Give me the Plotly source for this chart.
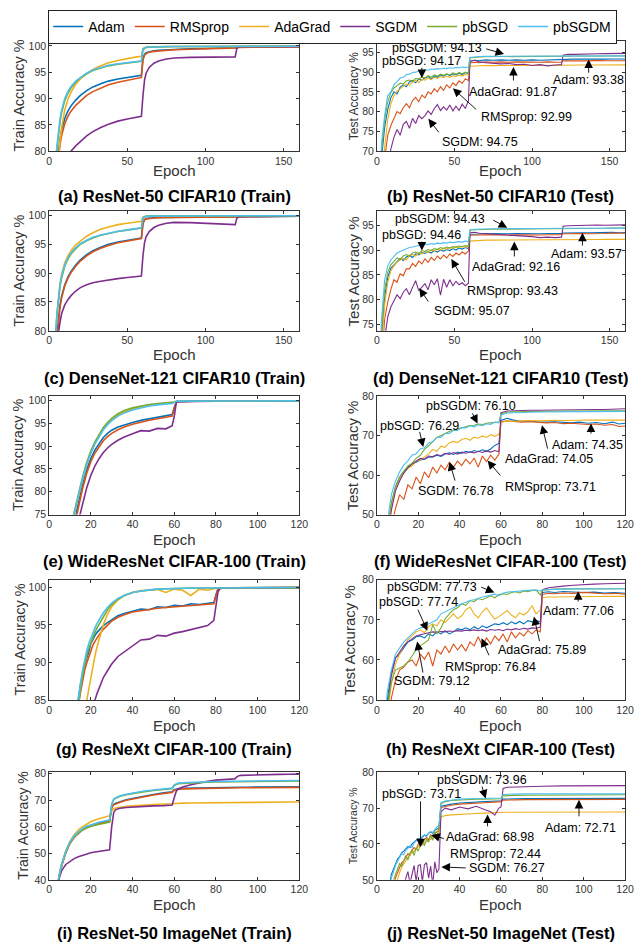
import plotly.graph_objects as go

NAMES = ["Adam", "RMSprop", "AdaGrad", "SGDM", "pbSGD", "pbSGDM"]
COLORS = ["#0072BD", "#D95319", "#EDB120", "#7E2F8E", "#77AC30", "#4DBEEE"]

# ---------------- (a)/(c) CIFAR10 train ----------------
CIFAR10_TRAIN_EPOCHS = [1,2,3,4,5,6,7,8,10,12,14,17,20,24,28,33,38,44,50,55,59,
                        60,61,62,64,67,70,75,80,90,100,110,119,
                        120,121,123,130,140,150,160]
A_ADAM = [42,58,67,73,77.5,80.3,82.3,84,86.2,87.6,88.6,89.7,90.6,91.5,92.2,92.8,93.3,93.7,94.0,94.2,94.4,
          97.6,98.4,98.7,98.9,99.05,99.15,99.25,99.35,99.45,99.5,99.55,99.6,
          99.7,99.75,99.78,99.8,99.8,99.82,99.83]
A_RMSPROP = [40,56,65,71.5,76,79,81.3,83,85.2,86.6,87.6,88.7,89.6,90.6,91.3,92.0,92.6,93.1,93.5,93.8,94.0,
             97.3,98.2,98.5,98.8,98.95,99.05,99.15,99.25,99.35,99.4,99.45,99.5,
             99.62,99.68,99.72,99.74,99.76,99.77,99.78]
A_ADAGRAD = [35,52,63,70,75,79,82,84.5,87.8,89.8,91.2,92.7,93.7,94.7,95.5,96.2,96.8,97.2,97.6,97.85,98.0,
             99.5,99.7,99.75,99.8,99.83,99.85,99.86,99.87,99.88,99.88,99.89,99.89,
             99.9,99.9,99.9,99.9,99.91,99.91,99.92]
A_SGDM = [20,40,52,60,65,68.5,71,73,76,78.3,80,81.0,81.9,82.9,83.7,84.5,85.1,85.7,86.1,86.4,86.6,
          90.5,93.5,94.8,95.9,96.7,97.1,97.5,97.7,97.8,97.85,97.85,97.9,
          99.5,99.75,99.82,99.85,99.87,99.88,99.9]
A_PBSGD = [48,62,71,76.5,80.3,83.3,85.6,87.3,89.6,91,92,93.1,93.9,94.7,95.3,95.8,96.2,96.5,96.75,96.95,97.05,
           99.3,99.6,99.7,99.75,99.8,99.83,99.85,99.86,99.87,99.88,99.88,99.89,
           99.9,99.9,99.9,99.9,99.91,99.91,99.92]
A_PBSGDM = [50,64,72,77.5,81,84,86.2,87.8,90,91.3,92.3,93.3,94.0,94.8,95.4,95.9,96.3,96.6,96.8,97.0,97.1,
            99.35,99.62,99.72,99.77,99.81,99.84,99.86,99.87,99.88,99.89,99.89,99.9,
            99.9,99.91,99.91,99.91,99.92,99.92,99.93]

C_ADAM = [40,55,66,74,79.5,82.5,84.5,86,88,89.3,90.3,91.4,92.3,93.2,93.9,94.5,95.0,95.4,95.7,95.95,96.1,
          98.7,99.3,99.45,99.55,99.6,99.65,99.68,99.7,99.72,99.73,99.74,99.75,
          99.8,99.82,99.84,99.85,99.86,99.87,99.88]
C_RMSPROP = [38,53,64,72.5,78.5,82,84.2,85.7,87.8,89.1,90.1,91.2,92.1,93.0,93.7,94.3,94.8,95.25,95.6,95.85,96.0,
             98.5,99.2,99.4,99.5,99.55,99.6,99.63,99.65,99.67,99.68,99.69,99.7,
             99.78,99.8,99.82,99.83,99.84,99.85,99.86]
C_ADAGRAD = [42,58,70,78,83,86.3,88.3,89.8,91.8,93.0,93.9,94.9,95.6,96.4,97.0,97.6,98.0,98.4,98.65,98.85,99.0,
             99.7,99.85,99.88,99.9,99.9,99.9,99.91,99.91,99.91,99.92,99.92,99.92,
             99.92,99.92,99.93,99.93,99.93,99.93,99.93]
C_SGDM = [35,50,62,72,78,80,81.5,83,84.5,85.4,86.1,86.9,87.5,88.0,88.35,88.6,88.85,89.05,89.25,89.4,89.5,
          93.0,95.3,96.3,97.2,97.9,98.3,98.65,98.8,98.75,98.6,98.45,98.4,
          99.5,99.75,99.82,99.85,99.87,99.88,99.9]
C_PBSGD = [44,59,70,78,82.6,85.7,87.7,89.2,91.2,92.4,93.3,94.25,95.0,95.6,96.1,96.55,96.9,97.2,97.45,97.65,97.8,
           99.6,99.8,99.85,99.88,99.89,99.9,99.9,99.9,99.91,99.91,99.91,99.92,
           99.92,99.92,99.92,99.93,99.93,99.93,99.93]
C_PBSGDM = [45,60,71,78.5,83,86,88,89.5,91.4,92.6,93.5,94.4,95.1,95.7,96.2,96.6,96.95,97.25,97.5,97.7,97.85,
            99.6,99.8,99.85,99.88,99.89,99.9,99.9,99.91,99.91,99.91,99.92,99.92,
            99.92,99.92,99.93,99.93,99.93,99.93,99.94]

# ---------------- (b)/(d) CIFAR10 test ----------------
CIFAR10_TEST_EPOCHS = [1,3,5,7,9,11,13,15,17,19,21,23,25,27,29,31,33,35,37,39,41,43,45,47,49,51,53,55,57,59,
                       60,63,66,70,75,80,85,90,95,100,105,110,115,119,
                       120,123,127,132,137,142,147,152,156,160]
B_ADAM = [50,68,76,80.5,83.5,85.0,84.5,86.2,86.8,86.3,87.5,87.9,87.3,88.3,88.0,88.6,88.9,88.2,89.0,88.7,89.3,89.0,89.5,89.1,89.6,89.3,89.8,89.4,89.9,89.6,
          92.8,93.0,92.9,93.1,93.0,93.1,93.0,93.1,93.0,93.1,93.0,93.1,93.05,93.1,
          93.3,93.35,93.3,93.35,93.3,93.38,93.3,93.35,93.3,93.35]
B_RMSPROP = [40,58,68,74,76.5,78.5,80.0,79.5,81.0,82.0,81.0,82.8,83.6,82.5,84.2,83.5,85.0,84.5,85.8,85.0,86.3,85.4,86.8,86.0,87.3,86.6,87.8,87.2,88.3,87.9,
             92.3,92.5,92.4,92.6,92.5,92.6,92.5,92.6,92.5,92.55,92.5,92.6,92.5,92.55,
             92.85,92.9,92.85,92.9,92.85,92.99,92.9,92.9,92.85,92.9]
B_ADAGRAD = [45,62,71,78,82,84,85.2,85.8,86.5,87.0,86.7,87.5,87.9,87.4,88.2,88.0,88.5,88.1,88.7,88.4,88.9,88.6,89.0,88.7,89.1,88.9,89.3,89.0,89.4,89.2,
             91.5,91.6,91.6,91.7,91.65,91.7,91.7,91.75,91.7,91.75,91.7,91.75,91.7,91.75,
             91.8,91.82,91.8,91.83,91.8,91.85,91.82,91.87,91.83,91.85]
B_SGDM = [30,50,60,66,70.5,73.5,75.5,74.0,76.8,77.5,75.8,78.3,77.0,79.0,78.2,79.0,80.2,79.3,80.8,81.8,80.3,81.2,80.4,81.7,80.2,81.4,80.3,81.9,80.8,82.7,
          92.8,93.0,92.6,92.4,92.3,92.1,92.2,91.9,92.0,91.7,91.9,91.6,91.8,91.9,
          94.3,94.5,94.5,94.6,94.6,94.65,94.7,94.7,94.7,94.75]
B_PBSGD = [52,70,78,82.5,84.8,86.0,86.6,87.2,87.0,87.8,88.0,87.6,88.4,88.2,88.8,88.5,89.1,88.7,89.3,89.0,89.5,89.2,89.6,89.3,89.8,89.5,89.9,89.6,90.0,89.8,
           93.6,93.8,93.85,93.9,93.9,93.95,93.9,93.95,93.9,93.95,93.95,94.0,93.95,94.0,
           94.05,94.05,94.1,94.05,94.1,94.1,94.1,94.17,94.1,94.12]
B_PBSGDM = [55,72,79,84,85,86.8,87.6,88.5,88.7,89.4,89.5,89.9,90.0,90.3,90.3,90.6,90.5,90.8,90.7,90.9,90.8,91.0,90.9,91.1,91.0,91.2,91.1,91.3,91.2,91.3,
            93.7,93.9,93.95,94.0,94.0,94.05,94.0,94.05,94.0,94.05,94.05,94.1,94.05,94.1,
            94.1,94.1,94.1,94.12,94.1,94.13,94.1,94.12,94.1,94.12]

D_ADAM = [55,72,80.5,84.5,86.3,87.0,87.8,88.3,87.9,88.6,88.9,88.5,89.2,89.0,89.5,89.3,89.7,89.4,89.9,89.6,90.0,89.8,90.1,89.9,90.3,90.0,90.4,90.2,90.5,90.3,
          93.2,93.3,93.25,93.35,93.3,93.35,93.3,93.35,93.3,93.35,93.3,93.35,93.3,93.35,
          93.45,93.5,93.45,93.5,93.5,93.55,93.5,93.57,93.5,93.55]
D_RMSPROP = [50,67,76,79.5,82,84.0,83.5,85.2,84.8,86.2,86.2,87.3,86.7,87.8,87.2,88.2,87.5,88.5,87.9,88.8,88.2,89.0,88.4,89.2,88.7,89.4,89.0,89.6,89.2,89.8,
             93.0,93.1,93.05,93.1,93.05,93.1,93.05,93.1,93.05,93.1,93.05,93.1,93.05,93.1,
             93.3,93.35,93.3,93.35,93.3,93.4,93.35,93.43,93.35,93.4]
D_ADAGRAD = [52,70,79,83.5,85.8,86.8,87.5,88.0,88.3,88.0,88.8,89.1,88.8,89.4,89.2,89.7,89.5,90.0,89.8,90.2,90.0,90.4,90.2,90.5,90.4,90.6,90.5,90.7,90.6,90.8,
             91.8,91.9,91.95,92.0,92.0,92.0,92.05,92.0,92.05,92.05,92.05,92.1,92.05,92.1,
             92.1,92.12,92.1,92.12,92.14,92.12,92.16,92.14,92.15,92.15]
D_SGDM = [45,62,72,76.5,78.5,79.8,81.0,80.2,81.5,82.2,81.0,82.5,83.8,81.8,82.6,83.2,82.0,84.0,83.0,84.2,80.9,84.1,82.5,84.0,82.8,83.7,83.0,83.4,82.8,83.3,
          93.5,93.6,93.4,93.3,93.2,93.1,93.0,92.9,92.8,92.7,92.5,92.6,92.5,92.6,
          94.8,94.9,94.95,95.0,95.0,95.05,95.0,95.05,95.05,95.07]
D_PBSGD = [58,74,82,85.5,87.0,87.8,88.4,88.1,88.8,89.1,88.8,89.4,89.6,89.3,89.9,89.7,90.1,89.9,90.3,90.1,90.5,90.3,90.6,90.4,90.7,90.6,90.8,90.7,90.9,90.8,
           94.0,94.1,94.15,94.2,94.2,94.25,94.2,94.25,94.25,94.3,94.25,94.3,94.3,94.3,
           94.35,94.35,94.4,94.4,94.4,94.42,94.4,94.46,94.42,94.44]
D_PBSGDM = [60,76,84,86.8,88.0,88.8,89.4,89.7,90.0,90.3,90.5,90.6,90.8,90.9,91.0,91.2,91.1,91.3,91.2,91.4,91.3,91.5,91.4,91.6,91.5,91.6,91.7,91.6,91.8,91.7,
            94.1,94.2,94.25,94.3,94.3,94.3,94.35,94.3,94.35,94.35,94.35,94.4,94.35,94.4,
            94.4,94.4,94.4,94.42,94.4,94.43,94.4,94.42,94.4,94.42]

# ---------------- (e) WideResNet CIFAR-100 train ----------------
E_EPOCHS = [1,2,4,6,8,10,12,13,14,15,16,18,20,22,24,26,28,30,33,36,40,44,48,52,56,59,
            60,61,62,64,70,80,90,100,110,120]
E_ADAM = [22,33,47,56,63,69,73.5,75.3,77.5,79.6,81.5,84.8,87.3,89.2,90.7,91.9,92.8,93.5,94.2,94.7,95.2,95.65,96.0,96.35,96.65,96.95,
          98.5,99.7,99.8,99.85,99.87,99.88,99.89,99.9,99.9,99.9]
E_RMSPROP = [20,31,45,54,61,67,72.5,74.3,76.5,78.6,80.6,84.0,86.6,88.5,90.0,91.2,92.1,92.8,93.6,94.2,94.8,95.3,95.7,96.0,96.3,96.6,
             98.2,99.65,99.78,99.83,99.85,99.86,99.87,99.88,99.88,99.88]
E_ADAGRAD = [25,36,50,59,66,71,75.0,77.0,79.0,80.8,82.6,85.8,88.5,90.6,92.3,93.8,94.9,95.8,96.8,97.5,98.2,98.7,99.0,99.2,99.35,99.45,
             99.6,99.85,99.88,99.9,99.9,99.91,99.92,99.92,99.93,99.93]
E_SGDM = [15,25,40,50,58,64.5,70,71.8,73.5,75.3,77.2,80.8,83.6,85.7,87.3,88.6,89.6,90.4,91.3,92.0,92.7,93.4,93.3,93.9,93.8,94.5,
          96.5,99.6,99.75,99.8,99.83,99.85,99.86,99.87,99.87,99.88]
E_PBSGD = [25,36,50,59,66,71.5,75.5,77.5,79.5,81.4,83.2,86.4,89.0,91.0,92.7,94.1,95.2,96.1,97.1,97.8,98.4,98.85,99.15,99.35,99.5,99.6,
           99.7,99.85,99.88,99.9,99.9,99.92,99.92,99.93,99.93,99.93]
E_PBSGDM = [24,35,49,58,65.5,71,75.2,77.2,79.2,81.0,82.8,85.9,88.5,90.5,92.2,93.6,94.7,95.6,96.6,97.3,97.95,98.45,98.8,99.05,99.25,99.35,
            99.6,99.85,99.88,99.9,99.9,99.91,99.92,99.92,99.93,99.93]

# ---------------- (f) WideResNet CIFAR-100 test ----------------
F_EPOCHS = [1,3,5,7,9,11,13,15,17,19,21,23,25,27,29,31,33,35,37,39,41,43,45,47,49,51,53,55,57,59,
            60,63,66,70,74,78,82,86,90,94,98,102,106,110,114,117,120]
F_ADAM = [15,30,44,52.5,57,59.5,61.0,62.0,62.8,63.2,63.8,64.0,64.5,64.6,65.0,64.7,65.3,65.6,65.2,65.8,65.5,66.0,65.7,66.2,65.9,66.4,66.0,66.6,67.5,68.0,
          73.8,74.35,73.9,73.6,73.7,73.5,73.4,73.5,73.3,73.2,73.4,73.1,73.3,73.0,73.4,72.9,73.1]
F_RMSPROP = [10,25,38,47,51.5,55.0,53.8,57.5,56.5,59.5,57.8,60.8,59.3,62.0,60.5,62.5,61.3,63.2,62.0,63.5,62.4,64.0,62.8,64.3,62.0,64.8,63.4,65.0,63.8,65.3,
             73.5,73.7,73.5,73.4,73.5,73.3,73.2,73.3,73.0,73.1,72.9,72.8,72.9,72.6,72.8,72.3,72.4]
F_ADAGRAD = [15,30,44,52,56.5,59.0,60.5,61.8,62.3,63.5,63.8,64.5,65.3,66.5,66.0,67.3,67.0,68.2,68.5,68.2,69.0,69.3,68.8,69.6,69.3,69.9,69.5,70.2,69.8,70.3,
             73.3,73.7,73.6,73.7,73.8,73.7,73.8,73.85,73.8,73.9,73.85,73.9,73.9,74.05,73.9,73.95,73.9]
F_SGDM = [12,28,42,51,56,58.5,60.5,61.8,62.8,63.5,64.2,64.0,64.8,64.6,65.2,64.9,65.5,65.2,65.7,65.3,65.8,65.5,65.9,65.6,66.0,65.7,66.1,65.8,66.2,65.9,
          75.8,76.2,76.3,76.35,76.4,76.4,76.45,76.45,76.5,76.5,76.55,76.55,76.6,76.6,76.65,76.7,76.78]
F_PBSGD = [18,33,46,53,57,59.5,61.0,62.3,63.0,64.2,65.0,66.5,67.4,68.4,69.5,70.0,70.6,71.0,71.4,71.7,72.0,72.3,72.5,72.6,72.9,72.8,73.1,73.2,73.3,73.4,
           75.5,75.9,76.0,76.05,76.1,76.1,76.15,76.15,76.2,76.2,76.2,76.25,76.25,76.29,76.25,76.25,76.25]
F_PBSGDM = [20,35,48,55,58.5,60.8,62.5,63.6,65.0,65.4,66.6,66.9,68.1,68.4,69.5,69.6,70.5,70.5,71.3,71.3,72.0,71.9,72.5,72.2,72.7,72.5,73.0,72.8,73.4,73.2,
            75.2,75.7,75.8,75.9,75.9,75.95,76.0,76.0,76.0,76.0,76.05,76.05,76.05,76.1,76.05,76.05,76.1]

# ---------------- (g) ResNeXt CIFAR-100 train ----------------
G_EPOCHS = [1,4,8,10,12,13,14,15,16,17,18,19,20,21,22,23,24,26,28,30,33,36,40,
            44,48,52,56,60,64,68,72,76,79,80,81,82,84,90,100,110,120]
G_ADAM = [20,45,68,75,80.5,83,85.2,87.0,88.5,89.6,90.6,91.4,92.5,93.1,93.6,94.0,94.3,94.9,95.3,95.7,96.2,96.5,96.8,
          97.1,97.0,97.4,97.3,97.6,97.5,97.8,97.7,97.9,97.95,
          99.0,99.8,99.9,99.92,99.93,99.94,99.95,99.95]
G_RMSPROP = [18,42,66,73.5,79.5,82,84.2,86.0,87.6,88.9,89.9,90.8,91.6,92.3,92.8,93.3,93.7,94.4,95.0,95.5,96.0,96.35,96.7,
             96.9,97.05,97.2,97.3,97.4,97.5,97.6,97.65,97.75,97.8,
             98.8,99.75,99.88,99.9,99.92,99.93,99.94,99.94]
G_ADAGRAD = [10,30,55,64,71,74,76.8,79.2,81.3,83.2,84.9,86.5,88.0,89.5,90.9,92.1,93.2,95.0,96.4,97.4,98.3,98.9,99.3,
             99.55,99.6,99.7,99.3,99.75,99.6,98.9,99.75,99.6,99.8,
             99.85,99.9,99.92,99.93,99.94,99.95,99.95,99.95]
G_SGDM = [10,30,52,60,66,69,71.5,73.8,76,78,79.8,81.4,82.8,84.0,85.0,85.9,86.7,88.0,88.9,89.8,90.8,91.4,92.1,
          93.0,93.1,93.6,93.5,93.9,94.1,94.4,94.6,94.9,95.6,
          97.5,99.4,99.85,99.9,99.92,99.93,99.94,99.95]
G_PBSGD = [18,42,66,73.5,79.5,82,84.3,86.4,88.2,89.7,90.9,91.9,92.7,93.4,94.0,94.6,95.1,96.1,97.0,97.7,98.4,98.9,99.3,
           99.5,99.65,99.75,99.8,99.85,99.88,99.9,99.9,99.9,99.9,
           99.92,99.93,99.93,99.94,99.94,99.95,99.95,99.95]
G_PBSGDM = [20,45,68,75,80.5,83,85.2,87.2,88.9,90.3,91.5,92.5,93.3,94.0,94.6,95.2,95.7,96.6,97.3,97.9,98.5,98.9,99.3,
            99.5,99.65,99.75,99.8,99.85,99.88,99.9,99.9,99.9,99.9,
            99.92,99.93,99.94,99.94,99.95,99.95,99.96,99.96]

# ---------------- (h) ResNeXt CIFAR-100 test ----------------
H_EPOCHS = [1,3,5,7,9,11,13,15,17,19,21,23,25,27,29,31,33,35,37,39,
            41,43,45,47,49,51,53,55,57,59,61,63,65,67,69,71,73,75,77,79,
            80,83,86,90,95,100,105,110,115,120]
H_ADAM = [18,36,50,57,60.5,61.5,63.0,64.5,65.0,65.8,66.0,65.5,66.5,66.0,67.0,66.5,67.3,66.5,67.0,67.8,
          67.5,68.0,67.5,68.3,67.7,68.5,68.0,68.5,69.0,68.8,69.3,68.8,69.5,69.0,69.6,69.0,69.8,69.5,69.8,69.5,
          76.8,77.0,76.8,77.06,76.9,76.8,76.9,76.7,76.8,76.6]
H_RMSPROP = [10,28,42,50.5,55.0,57.5,58.2,59.5,60.0,58.5,61.5,60.2,62.0,58.5,62.5,61.5,63.5,61.8,64.0,62.5,
             63.8,62.2,64.5,63.5,65.8,63.5,65.5,64.0,66.0,64.8,66.5,64.5,67.0,65.5,66.8,66.0,67.3,66.5,67.5,67.0,
             76.3,76.6,76.5,76.7,76.6,76.84,76.6,76.5,76.6,76.4]
H_ADAGRAD = [15,32,46,54,59,61.5,63.5,65.0,66.0,67.0,67.5,66.8,68.3,69.0,68.5,70.0,69.3,70.5,71.5,70.3,
             71.0,72.5,73.2,71.5,70.5,72.0,73.0,71.5,70.2,70.8,71.5,72.3,71.2,70.5,71.8,71.2,72.0,73.5,71.5,72.5,
             75.5,75.7,75.7,75.75,75.8,75.8,75.85,75.85,75.89,75.85]
H_SGDM = [15,33,48,56,60.5,62.0,63.5,64.5,65.3,66.0,66.3,66.6,66.8,67.0,66.9,67.1,67.0,67.2,67.1,67.3,
          67.2,67.4,67.3,67.5,67.3,67.5,67.2,67.6,67.4,67.6,67.3,67.7,67.5,67.8,67.6,67.9,67.7,68.0,67.9,68.2,
          77.5,78.0,78.2,78.4,78.6,78.8,78.9,79.0,79.1,79.12]
H_PBSGD = [18,35,48,54.5,57.5,58,58.5,59.5,61.0,62.5,63.5,64.2,65.0,68.8,66.5,68.0,70.2,71.5,72.5,73.0,
           74.0,73.6,74.8,74.5,75.3,75.0,75.6,76.0,75.5,76.3,76.5,76.3,76.8,77.0,76.7,77.2,77.0,77.3,77.4,76.2,
           77.4,77.6,77.65,77.7,77.7,77.72,77.72,77.74,77.72,77.74]
H_PBSGDM = [20,38,52,57.5,61.5,63.0,64.5,65.5,66.5,67.5,68.0,68.2,69.0,69.5,70.0,71.5,72.0,72.6,73.2,73.6,
            74.0,74.4,74.8,75.0,75.4,75.7,75.9,76.2,76.4,76.0,76.6,76.9,77.0,77.1,77.2,77.3,77.3,77.4,77.4,77.2,
            77.5,77.6,77.6,77.65,77.7,77.7,77.7,77.72,77.73,77.73]

# ---------------- (i) ResNet-50 ImageNet train ----------------
I_EPOCHS = [1,2,3,4,5,6,8,10,12,14,16,18,20,22,24,26,28,29,
            30,31,32,34,37,40,45,50,55,59,
            60,61,62,64,68,72,76,80,85,89,
            90,91,92,95,100,105,110,115,120]
I_ADAM = [20,27,33,38,42,45.5,50.5,54,56.3,57.9,59.1,60.0,60.6,61.1,61.5,61.9,62.2,62.4,
          67.5,68.5,68.9,69.5,70.2,70.7,71.5,72.2,72.8,73.2,
          74.0,74.3,74.4,74.5,74.6,74.7,74.75,74.8,74.85,74.9,
          74.9,74.9,74.95,74.95,75.0,75.0,75.05,75.05,75.1]
I_RMSPROP = [19.5,26.5,32.5,37.5,41.7,45.2,50.2,53.7,56.0,57.6,58.8,59.7,60.3,60.8,61.2,61.6,61.9,62.1,
             67.2,68.3,68.6,69.3,70.0,70.5,71.3,72.0,72.6,73.0,
             73.8,74.1,74.2,74.3,74.4,74.5,74.55,74.6,74.65,74.7,
             74.7,74.7,74.75,74.75,74.8,74.8,74.85,74.85,74.9]
I_ADAGRAD = [20,27,33,38,42.5,46,51,54.5,57,58.8,60.1,61.1,61.9,62.6,63.1,63.6,64.0,64.2,
             66.0,66.8,67.1,67.4,67.7,67.9,68.2,68.4,68.6,68.7,
             68.8,68.85,68.9,68.95,69.0,69.05,69.1,69.15,69.2,69.2,
             69.22,69.22,69.25,69.25,69.3,69.3,69.3,69.35,69.35]
I_SGDM = [20,27,32,37,41,43.5,45.8,47.0,48.0,48.7,49.3,49.8,50.2,50.5,50.8,51.0,51.2,51.3,
          60.0,65.5,66.5,67.0,67.3,67.5,67.7,67.9,68.0,68.2,
          71.0,73.5,74.3,75.0,75.9,76.6,77.2,77.6,77.9,78.1,
          78.8,79.3,79.4,79.5,79.6,79.7,79.8,79.85,79.9]
I_PBSGD = [20,27,33,38,42,45.5,50.5,54,56.2,57.7,58.8,59.6,60.2,60.6,61.0,61.3,61.6,61.8,
           68.3,70.3,70.8,71.5,72.1,72.6,73.2,73.7,74.1,74.4,
           75.6,76.1,76.3,76.4,76.6,76.7,76.8,76.9,76.95,77.0,
           77.05,77.05,77.1,77.1,77.15,77.2,77.2,77.25,77.3]
I_PBSGDM = [20,27,33.2,38.2,42.2,45.8,50.8,54.3,56.6,58.1,59.3,60.2,60.8,61.3,61.7,62.1,62.4,62.6,
            68.5,70.5,71.0,71.7,72.3,72.8,73.4,73.9,74.3,74.6,
            75.8,76.3,76.5,76.6,76.8,76.9,77.0,77.1,77.15,77.2,
            77.25,77.25,77.3,77.3,77.35,77.4,77.4,77.45,77.5]

# ---------------- (j) ResNet-50 ImageNet test ----------------
J_EPOCHS = [1,3,5,7,8,9,10,11,12,13,14,15,16,17,18,19,20,21,22,23,24,25,26,27,28,29,30,
            31,33,36,40,44,48,52,55,57,59,60,
            61,63,67,72,80,90,100,110,120]
J_ADAM = [18,33,45,51.5,53.0,54.5,55.8,56.5,57.5,58.0,58.8,59.3,59.0,60.0,60.5,61.0,61.5,61.3,62.0,62.5,62.2,63.0,63.3,63.0,63.8,64.2,64.5,
          70.5,70.8,71.1,71.4,71.6,71.7,71.8,71.9,72.0,72.0,72.0,
          72.5,72.6,72.6,72.65,72.65,72.7,72.7,72.7,72.71]
J_RMSPROP = [12,26,38,46,48.5,50.5,52.0,53.5,54.8,55.3,56.5,57.3,56.8,58.3,59.0,58.5,60.0,60.5,59.8,61.3,61.8,61.2,62.5,62.0,63.0,63.5,63.8,
             70.2,70.5,70.8,71.1,71.3,71.4,71.5,71.6,71.7,71.8,71.8,
             72.2,72.3,72.3,72.35,72.35,72.4,72.4,72.42,72.44]
J_ADAGRAD = [12,25,36,44,46.5,48.5,50.5,52.0,53.5,54.5,55.5,56.3,57.0,57.6,58.2,58.7,59.2,59.6,60.0,60.4,60.7,61.0,61.3,61.5,61.8,62.0,62.2,
             67.6,67.9,68.1,68.3,68.4,68.5,68.6,68.6,68.7,68.7,68.8,
             68.85,68.85,68.9,68.9,68.95,68.95,68.98,68.95,68.9]
J_SGDM = [5,15,25,33,36,39,41.5,44,46,47.5,50.5,52.3,49.0,51.5,54.0,49.5,54.0,54.2,49.5,54.2,54.8,50.5,53.8,48.5,55.0,52.0,53.0,
          69.0,70.0,69.5,70.3,69.8,70.5,69.6,69.0,68.0,70.0,70.3,
          75.5,75.8,75.9,76.0,76.1,76.2,76.25,76.25,76.27]
J_PBSGD = [12,27,40,48,50,51.5,53.0,54.5,53.8,55.5,56.8,55.5,57.5,58.3,56.8,59.0,58.0,59.8,61.2,59.5,61.5,60.5,62.3,61.0,63.5,62.0,64.5,
           71.3,71.8,72.1,72.3,72.4,72.5,72.5,72.6,72.5,72.6,72.6,
           73.4,73.5,73.55,73.6,73.6,73.65,73.7,73.7,73.71]
J_PBSGDM = [15,30,42,50.5,52.5,54.0,55.2,56.5,57.3,57.0,58.3,58.8,59.5,59.0,60.3,60.8,61.5,61.0,62.2,62.5,62.0,63.0,63.5,63.2,64.0,64.8,65.0,
            71.5,72.0,72.3,72.5,72.6,72.6,72.7,72.6,72.7,72.6,72.8,
            73.8,73.9,73.9,73.95,73.95,73.96,73.95,73.96,73.95]

# ---------------- panel definitions ----------------
CIFAR10_TICKS = [0, 50, 100, 150]
C100_TICKS = [0, 20, 40, 60, 80, 100, 120]

PANELS = [
    dict(title="(a) ResNet-50 CIFAR10 (Train)", x=CIFAR10_TRAIN_EPOCHS,
         ys=[A_ADAM, A_RMSPROP, A_ADAGRAD, A_SGDM, A_PBSGD, A_PBSGDM],
         xr=[0, 160], xt=CIFAR10_TICKS, yr=[80, 101], yt=[80, 85, 90, 95, 100], ylab="Train Accuracy %"),
    dict(title="(b) ResNet-50 CIFAR10 (Test)", x=CIFAR10_TEST_EPOCHS,
         ys=[B_ADAM, B_RMSPROP, B_ADAGRAD, B_SGDM, B_PBSGD, B_PBSGDM],
         xr=[0, 160], xt=CIFAR10_TICKS, yr=[70, 98], yt=[70, 75, 80, 85, 90, 95], ylab="Test Accuracy %"),
    dict(title="(c) DenseNet-121 CIFAR10 (Train)", x=CIFAR10_TRAIN_EPOCHS,
         ys=[C_ADAM, C_RMSPROP, C_ADAGRAD, C_SGDM, C_PBSGD, C_PBSGDM],
         xr=[0, 160], xt=CIFAR10_TICKS, yr=[80, 100.7], yt=[80, 85, 90, 95, 100], ylab="Train Accuracy %"),
    dict(title="(d) DenseNet-121 CIFAR10 (Test)", x=CIFAR10_TEST_EPOCHS,
         ys=[D_ADAM, D_RMSPROP, D_ADAGRAD, D_SGDM, D_PBSGD, D_PBSGDM],
         xr=[0, 160], xt=CIFAR10_TICKS, yr=[73.7, 97.8], yt=[75, 80, 85, 90, 95], ylab="Test Accuracy %"),
    dict(title="(e) WideResNet CIFAR-100 (Train)", x=E_EPOCHS,
         ys=[E_ADAM, E_RMSPROP, E_ADAGRAD, E_SGDM, E_PBSGD, E_PBSGDM],
         xr=[0, 120], xt=C100_TICKS, yr=[75, 101], yt=[75, 80, 85, 90, 95, 100], ylab="Train Accuracy %"),
    dict(title="(f) WideResNet CIFAR-100 (Test)", x=F_EPOCHS,
         ys=[F_ADAM, F_RMSPROP, F_ADAGRAD, F_SGDM, F_PBSGD, F_PBSGDM],
         xr=[0, 120], xt=C100_TICKS, yr=[50, 80], yt=[50, 60, 70, 80], ylab="Test Accuracy %"),
    dict(title="(g) ResNeXt CIFAR-100 (Train)", x=G_EPOCHS,
         ys=[G_ADAM, G_RMSPROP, G_ADAGRAD, G_SGDM, G_PBSGD, G_PBSGDM],
         xr=[0, 120], xt=C100_TICKS, yr=[85, 101], yt=[85, 90, 95, 100], ylab="Train Accuracy %"),
    dict(title="(h) ResNeXt CIFAR-100 (Test)", x=H_EPOCHS,
         ys=[H_ADAM, H_RMSPROP, H_ADAGRAD, H_SGDM, H_PBSGD, H_PBSGDM],
         xr=[0, 120], xt=C100_TICKS, yr=[50, 80], yt=[50, 60, 70, 80], ylab="Test Accuracy %"),
    dict(title="(i) ResNet-50 ImageNet (Train)", x=I_EPOCHS,
         ys=[I_ADAM, I_RMSPROP, I_ADAGRAD, I_SGDM, I_PBSGD, I_PBSGDM],
         xr=[0, 120], xt=C100_TICKS, yr=[40, 80.6], yt=[40, 50, 60, 70, 80], ylab="Train Accuracy %"),
    dict(title="(j) ResNet-50 ImageNet (Test)", x=J_EPOCHS,
         ys=[J_ADAM, J_RMSPROP, J_ADAGRAD, J_SGDM, J_PBSGD, J_PBSGDM],
         xr=[0, 120], xt=C100_TICKS, yr=[50, 80], yt=[50, 60, 70, 80], ylab="Test Accuracy %"),
]

# labels on test panels: (text, x, y) and arrows: (tail_x, tail_y, head_x, head_y)
NOTES = {
    1: [("pbSGDM: 94.13", 39, 96.2), ("pbSGD: 94.17", 28.6, 92.7), ("Adam: 93.38", 136.6, 88.0),
        ("AdaGrad: 91.87", 88, 85.0), ("RMSprop: 92.99", 96.5, 78.6), ("SGDM: 94.75", 66.7, 72.4)],
    3: [("pbSGDM: 94.43", 41, 96.3), ("pbSGD: 94.46", 28.5, 93.0), ("Adam: 93.57", 134.8, 89.2),
        ("AdaGrad: 92.16", 89.8, 86.6), ("RMSprop: 93.43", 87.3, 81.8), ("SGDM: 95.07", 61, 77.7)],
    5: [("pbSGDM: 76.10", 45.6, 77.5), ("pbSGD: 76.29", 20.4, 72.3), ("Adam: 74.35", 102, 67.5),
        ("AdaGrad: 74.05", 83, 64), ("RMSprop: 73.71", 84, 57), ("SGDM: 76.78", 38.4, 56)],
    7: [("pbSGDM: 77.73", 26.7, 78.25), ("pbSGD: 77.74", 20, 74.5), ("Adam: 77.06", 97.7, 72.25),
        ("AdaGrad: 75.89", 79.7, 62.4), ("RMSprop: 76.84", 55, 58.25), ("SGDM: 79.12", 26.6, 54.7)],
    9: [("pbSGDM: 73.96", 50.6, 77.7), ("pbSGD: 73.71", 21.4, 73.9), ("Adam: 72.71", 98.2, 64.5),
        ("AdaGrad: 68.98", 54.5, 62), ("RMSprop: 72.44", 57.4, 57.1), ("SGDM: 76.27", 63, 53.3)],
}
ARROWS = {
    1: [(69.5, 96.0, 82, 94.6), (29, 91.5, 29, 88.5), (136.5, 89.5, 136.5, 93.2),
        (88, 87.5, 88, 91.3), (65, 80.2, 49, 85.9), (40.6, 74.4, 33.2, 78.2)],
    3: [(74, 96.2, 84, 94.5), (29, 92.0, 29, 89.9), (132.5, 90.6, 132.5, 93.5),
        (88.6, 88.4, 88.6, 91.7), (57.2, 83.3, 48, 88.2), (33.8, 79.3, 27.3, 82.3)],
    5: [(45.8, 76.0, 48.7, 73.05), (20.5, 71.3, 22.4, 67.1), (103.5, 70.1, 103.5, 73.05),
        (82.7, 66.3, 79.8, 72.6), (60.3, 59.5, 53.5, 63.7), (38, 58.2, 35.1, 63.3)],
    7: [(49.7, 78.3, 56.8, 76.8), (19.5, 72.9, 24.4, 67.3), (97.3, 74.2, 97.3, 77.1),
        (78.8, 64.3, 75.9, 70.8), (54.5, 60.8, 50.6, 65.4), (22.4, 56.5, 19.5, 64.6)],
    9: [(50.6, 76.4, 52.6, 72.7), (21.1, 72.3, 21.1, 59.1), (97.7, 67.3, 97.7, 72.3),
        (53.5, 64.5, 53.5, 68.2), (33.1, 61.4, 26.3, 62.5), (43.7, 53.3, 31.2, 53.6)],
}

# ---------------- layout geometry (pixels) ----------------
W, H = 641, 952
COL_X = [(47, 302), (381, 634)]
ROW_Y = [(35, 147), (208, 329), (395, 515), (581, 703), (776, 885)]
TITLE_Y = [192, 377, 562, 752, 939]
EPOCH_Y = [167, 353, 540, 729, 910]
YLAB_X = [16, 358, 16, 357, 16, 356, 17, 354, 20, 357]
YLAB_SIZE = [14.5, 12, 14.5, 15, 14.5, 15, 14.5, 15, 14, 10.5]

FONT = "Liberation Sans, Arial, Helvetica, sans-serif"
AX_COLOR = "#333333"

def px_x(p):
    return p / W

def px_y(p):
    return 1 - p / H

fig = go.Figure()
annotations = []
layout_axes = {}

for i, pn in enumerate(PANELS):
    row, col = divmod(i, 2)
    n = "" if i == 0 else str(i + 1)
    xa, ya = "x" + n, "y" + n
    is_train = (col == 0)
    for k, yv in enumerate(pn["ys"]):
        fig.add_trace(go.Scatter(
            x=pn["x"], y=yv, mode="lines", name=NAMES[k], legendgroup=NAMES[k],
            showlegend=(i == 0), xaxis=xa, yaxis=ya, hoverinfo="skip",
            line=dict(color=COLORS[k], width=1.6 if is_train else 1.1)))
    x0, x1 = COL_X[col]
    y0, y1 = ROW_Y[row]
    common = dict(showgrid=False, zeroline=False, showline=True, linecolor=AX_COLOR, linewidth=0.8,
                  mirror="allticks", ticks="inside", ticklen=3, tickwidth=0.8, tickcolor=AX_COLOR,
                  tickfont=dict(size=10.5, color=AX_COLOR, family=FONT))
    layout_axes["xaxis" + n] = dict(common, domain=[px_x(x0), px_x(x1)], range=pn["xr"],
                                    tickmode="array", tickvals=pn["xt"], anchor=ya)
    layout_axes["yaxis" + n] = dict(common, domain=[px_y(y1), px_y(y0)], range=pn["yr"],
                                    tickmode="array", tickvals=pn["yt"], anchor=xa)
    cx = (x0 + x1) / 2
    annotations.append(dict(text="<b>" + pn["title"] + "</b>", x=px_x(cx), y=px_y(TITLE_Y[row]),
                            xref="paper", yref="paper", showarrow=False, xanchor="center", yanchor="middle",
                            font=dict(size=16.5, color="black", family=FONT)))
    annotations.append(dict(text="Epoch", x=px_x(cx), y=px_y(EPOCH_Y[row]),
                            xref="paper", yref="paper", showarrow=False, xanchor="center", yanchor="middle",
                            font=dict(size=15, color=AX_COLOR, family=FONT)))
    annotations.append(dict(text=pn["ylab"], x=px_x(YLAB_X[i]), y=px_y((y0 + y1) / 2),
                            xref="paper", yref="paper", showarrow=False, textangle=-90,
                            xanchor="center", yanchor="middle",
                            font=dict(size=YLAB_SIZE[i], color=AX_COLOR, family=FONT)))
    for (txt, tx, ty) in NOTES.get(i, []):
        annotations.append(dict(text=txt, x=tx, y=ty, xref=xa, yref=ya, showarrow=False,
                                xanchor="center", yanchor="middle",
                                font=dict(size=12.5, color="black", family=FONT)))
    for (ax_, ay_, hx, hy) in ARROWS.get(i, []):
        annotations.append(dict(text="", x=hx, y=hy, ax=ax_, ay=ay_, xref=xa, yref=ya,
                                axref=xa, ayref=ya, showarrow=True, arrowhead=2, arrowsize=1.9,
                                arrowwidth=0.9, arrowcolor="black", standoff=0, startstandoff=0))

fig.update_layout(
    width=W, height=H, margin=dict(l=0, r=0, t=0, b=0),
    paper_bgcolor="white", plot_bgcolor="white",
    font=dict(family=FONT),
    showlegend=True,
    legend=dict(orientation="h", x=px_x(336), y=px_y(4), xanchor="center", yanchor="top",
                bgcolor="white", bordercolor="#222222", borderwidth=1,
                font=dict(size=14, color="black", family=FONT), itemwidth=30, tracegroupgap=0),
    annotations=annotations,
    **layout_axes,
)

fig.write_html("out.html")
